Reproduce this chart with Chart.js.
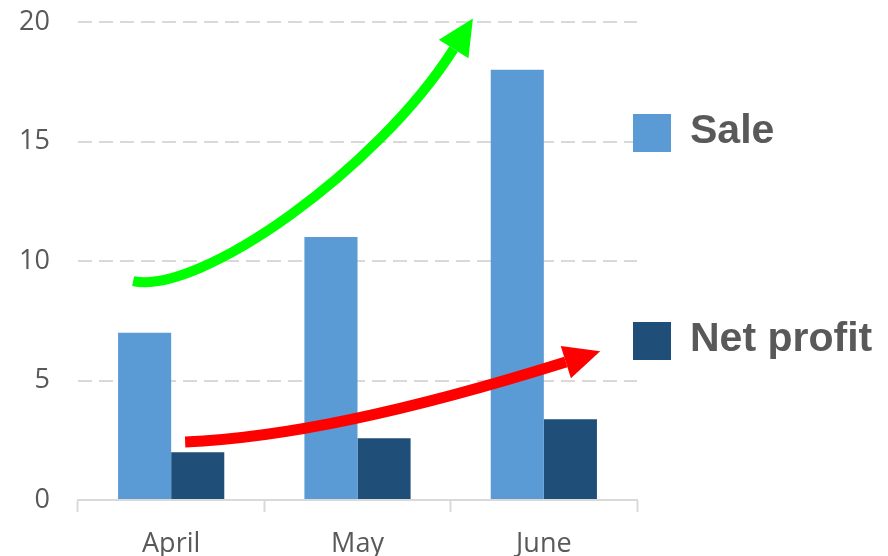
<!DOCTYPE html>
<html>
<head>
<meta charset="utf-8">
<script src="https://cdn.jsdelivr.net/npm/chart.js@4.4.1/dist/chart.umd.min.js"></script>
<style>
  body { margin: 0; background: #fff; }
  #wrap { width: 888px; height: 556px; position: relative; }
</style>
</head>
<body>
<div id="wrap"><canvas id="myChart"></canvas></div>
<script>
const months = ['April', 'May', 'June']
const sale = [7, 11, 18]
const netProfit = [2, 2.58, 3.38]
const yTicks = [0, 5, 10, 15, 20]

// trend arrows, in (category index, value) space: start, ctrl1, ctrl2, end of shaft
const greenArrow = [[-0.204, 9.16], [0.156, 8.58], [1.108, 13.85], [1.516, 18.87]]
const redArrow = [[0.075, 2.43], [0.64, 2.59], [1.366, 3.93], [2.118, 5.77]]

const arrowPlugin = {
    id: 'arrows',
    afterDatasetsDraw(chart) {
        const ctx = chart.ctx
        const xs = chart.scales.x
        const ys = chart.scales.y
        const draw = (pts, color, width, headLen, headHalf) => {
            const p = pts.map(([i, v]) => [xs.getPixelForValue(i), ys.getPixelForValue(v)])
            ctx.save()
            ctx.strokeStyle = color
            ctx.fillStyle = color
            ctx.lineWidth = width
            ctx.beginPath()
            ctx.moveTo(p[0][0], p[0][1])
            ctx.bezierCurveTo(p[1][0], p[1][1], p[2][0], p[2][1], p[3][0], p[3][1])
            ctx.stroke()
            // arrow head follows the end tangent
            let dx = p[3][0] - p[2][0], dy = p[3][1] - p[2][1]
            const len = Math.hypot(dx, dy)
            dx /= len; dy /= len
            const tip = [p[3][0] + dx * headLen, p[3][1] + dy * headLen]
            ctx.beginPath()
            ctx.moveTo(tip[0], tip[1])
            ctx.lineTo(p[3][0] - dy * headHalf, p[3][1] + dx * headHalf)
            ctx.lineTo(p[3][0] + dy * headHalf, p[3][1] - dx * headHalf)
            ctx.closePath()
            ctx.fill()
            ctx.restore()
        }
        draw(greenArrow, '#00ff00', 10, 36, 17.5)
        draw(redArrow, '#ff0000', 11, 36, 17)
    }
}

const legendPlugin = {
    id: 'sideLegend',
    afterDraw(chart) {
        const ctx = chart.ctx
        const area = chart.chartArea
        const offsets = [92, 300]
        ctx.save()
        chart.data.datasets.forEach((ds, k) => {
            const x = area.right - 4
            const y = area.top + offsets[k]
            ctx.fillStyle = ds.backgroundColor
            ctx.fillRect(x, y, 38, 38)
            ctx.fillStyle = '#595959'
            ctx.font = 'bold 41px "Liberation Sans", Arial, sans-serif'
            ctx.textBaseline = 'alphabetic'
            ctx.fillText(ds.label, x + 57, y + 19 + 10)
        })
        ctx.restore()
    }
}

const ctx = document.getElementById('myChart')
new Chart(ctx, {
    type: 'bar',
    data: {
        labels: months,
        datasets: [
            {
                label: 'Sale',
                data: sale,
                backgroundColor: '#5b9bd5',
                barPercentage: 1,
                categoryPercentage: 0.57
            },
            {
                label: 'Net profit',
                data: netProfit,
                backgroundColor: '#1f4e79',
                barPercentage: 1,
                categoryPercentage: 0.57
            }
        ]
    },
    options: {
        responsive: true,
        maintainAspectRatio: false,
        animation: false,
        layout: { padding: { left: 0, right: 251, top: 22, bottom: 0 } },
        plugins: {
            legend: { display: false },
            tooltip: { enabled: false }
        },
        scales: {
            x: {
                afterFit: (scale) => { scale.height = 56 },
                grid: {
                    offset: true,
                    drawOnChartArea: false,
                    tickLength: 12,
                    tickWidth: 2,
                    tickColor: '#d9d9d9'
                },
                border: { color: '#d9d9d9', width: 2 },
                ticks: {
                    color: '#595959',
                    font: { family: '"Open Sans", sans-serif', size: 27 },
                    padding: 16
                }
            },
            y: {
                min: 0,
                max: 20,
                afterFit: (scale) => {
                    scale.width = 78
                    scale.paddingTop = 0
                    scale.paddingBottom = 0
                },
                afterBuildTicks: (scale) => { scale.ticks = yTicks.map(v => ({ value: v })) },
                grid: {
                    color: '#d9d9d9',
                    lineWidth: 2,
                    drawTicks: false
                },
                border: { display: false, dash: [14, 7] },
                ticks: {
                    color: '#595959',
                    font: { family: '"Open Sans", sans-serif', size: 27 },
                    padding: 28
                }
            }
        }
    },
    plugins: [arrowPlugin, legendPlugin]
})
</script>
</body>
</html>
